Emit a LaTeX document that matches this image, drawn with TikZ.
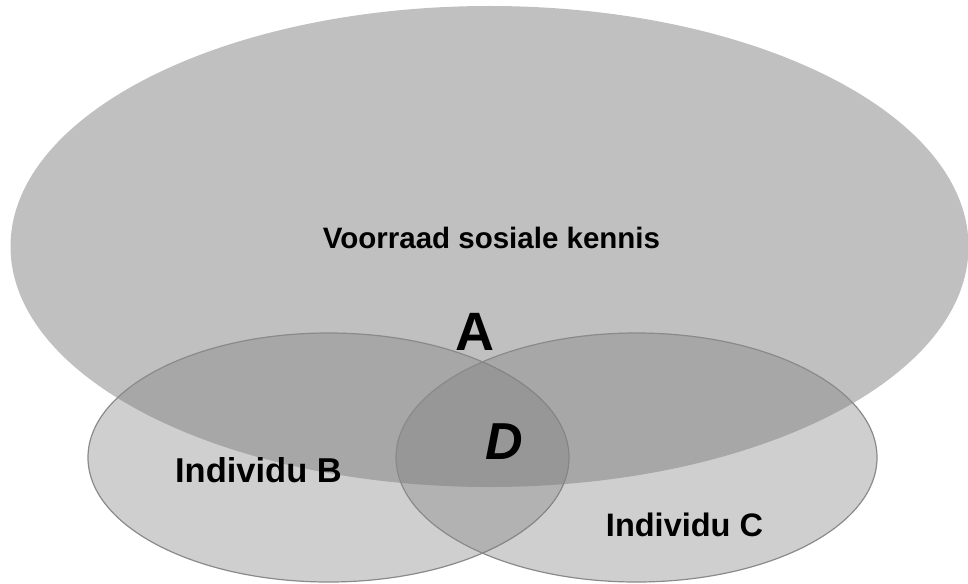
\documentclass[tikz,border=0pt]{standalone}
\usepackage{fontspec}
\setmainfont{Liberation Sans}
\definecolor{bigfill}{HTML}{C0C0C0}
\definecolor{smallfill}{HTML}{7E7E7E}
\definecolor{smalledge}{HTML}{8A8A8A}
\begin{document}
\begin{tikzpicture}[x=1pt,y=-1pt,
  bigset/.style={fill=bigfill,draw=none},
  smallset/.style={fill=smallfill,fill opacity=0.37,draw=smalledge,draw opacity=1,line width=1.2pt},
  lbl/.style={inner sep=0pt,anchor=base,font=\bfseries}]
\useasboundingbox (0,0) rectangle (968,583);
\path[bigset] (489.5,246.5) ellipse [x radius=479, y radius=240.5];
\path[smallset] (328.5,457.5) ellipse [x radius=240.5, y radius=124.5];
\path[smallset] (636.5,457.5) ellipse [x radius=240.5, y radius=124.5];
\node[lbl,font=\bfseries\fontsize{29.5}{33}\selectfont] (kennis) at (491.5,248) {Voorraad sosiale kennis};
\node[lbl,font=\bfseries\fontsize{54}{60}\selectfont] (a) at (475,350) {A};
\node[lbl,font=\bfseries\itshape\fontsize{52}{58}\selectfont] (d) at (504,459) {D};
\node[lbl,font=\bfseries\fontsize{34.5}{38}\selectfont] (b) at (258.5,482) {Individu B};
\node[lbl,font=\bfseries\fontsize{32.5}{36}\selectfont] (c) at (684.5,536) {Individu C};
\end{tikzpicture}
\end{document}
